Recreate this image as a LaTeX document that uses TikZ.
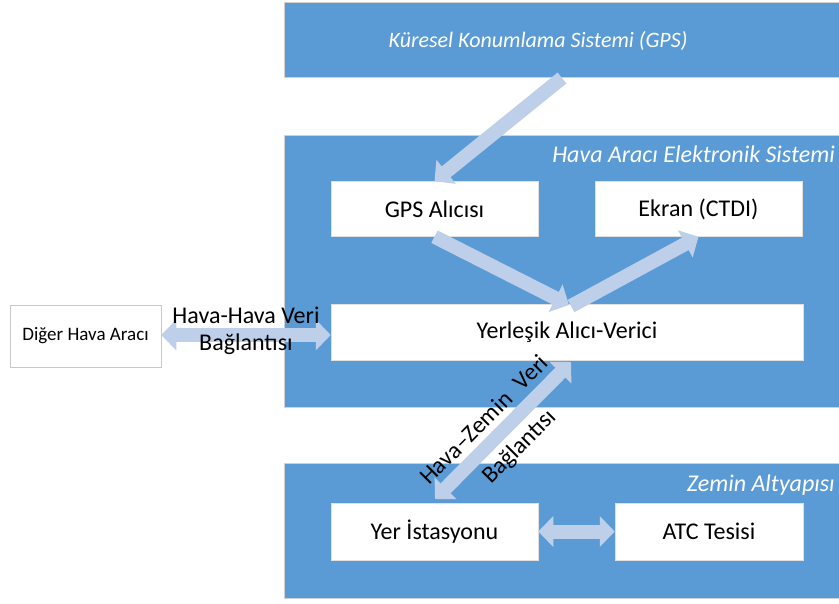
\documentclass[tikz,border=0pt]{standalone}
\usepackage{fontspec}
\setmainfont{Carlito}
\usetikzlibrary{arrows.meta,calc}
\definecolor{bandblue}{RGB}{91,155,213}
\definecolor{flowblue}{RGB}{189,207,233}
\definecolor{edgegray}{RGB}{200,200,200}
\tikzset{
  band/.style={fill=bandblue, draw=black!18, line width=0.6pt},
  bandtitle/.style={text=white, font=\itshape\fontsize{24}{27}\selectfont, inner sep=0pt},
  unitbox/.style={fill=white, draw=black!12, line width=0.5pt, font=\fontsize{24}{27}\selectfont},
  flow/.style={draw=flowblue, line width=14pt, -{Triangle[width=30pt,length=15pt]}},
  flowboth/.style={draw=flowblue, line width=14pt, {Triangle[width=30pt,length=15pt]}-{Triangle[width=30pt,length=15pt]}},
  linklabel/.style={font=\fontsize{24}{27}\selectfont, align=center, inner sep=0pt}
}
\begin{document}
\begin{tikzpicture}[x=1pt, y=-1pt]
\useasboundingbox (0,0) rectangle (839,604);

% system bands
\path[band] (284,2) rectangle (841,77);
\path[band] (284,135) rectangle (841,407);
\path[band] (284,463) rectangle (841,598);

\node[bandtitle, font=\itshape\fontsize{22}{26}\selectfont] (gpsband) at (538,41) {Küresel Konumlama Sistemi (GPS)};
\node[bandtitle, anchor=east] (avband) at (835,154) {Hava Aracı Elektronik Sistemi};
\node[bandtitle, anchor=east] (groundband) at (835,485) {Zemin Altyapısı};

% units
\node[unitbox, minimum width=207pt, minimum height=55pt] (gpsrx) at (434.5,209) {GPS Alıcısı};
\node[unitbox, minimum width=207pt, minimum height=55pt] (display) at (698.5,209) {Ekran (CTDI)};
\node[unitbox, minimum width=472pt, minimum height=56pt] (xcvr) at (567,332) {Yerleşik Alıcı-Verici};
\node[unitbox, minimum width=207pt, minimum height=57pt] (station) at (434.5,531.5) {Yer İstasyonu};
\node[unitbox, minimum width=188pt, minimum height=57pt] (atc) at (709,531.5) {ATC Tesisi};
\node[unitbox, draw=edgegray, minimum width=151pt, minimum height=62pt,
      font=\fontsize{19}{22}\selectfont] (other) at (85.5,336) {Diğer Hava Aracı};

% data flows
\coordinate (gpssrc) at (562,78);
\coordinate (xcvrin) at (569,305);
\coordinate (xcvrout) at (571,306);
\coordinate (xcvrlow) at (571,362);
\coordinate (stationtop) at (435,499);

\draw[flow] (gpssrc) -- (gpsrx.north);
\draw[flow] (gpsrx.south) -- (xcvrin);
\draw[flow] (xcvrout) -- (display.south);
\draw[flowboth] (other.east |- 0,335) -- (xcvr.west |- 0,335);
\draw[flowboth] (station.east) -- (atc.west);
\draw[flowboth] (stationtop) -- (xcvrlow)
  node[pos=0.47, sloped, above=6pt, linklabel] (gndlink) {Hava–Zemin\hspace{0.3em} Veri}
  node[pos=0.5, sloped, below=6pt, linklabel] (gndlink2) {Bağlantısı};

\node[linklabel] (airlink) at (246,331) {Hava-Hava Veri\\Bağlantısı};
\end{tikzpicture}
\end{document}
